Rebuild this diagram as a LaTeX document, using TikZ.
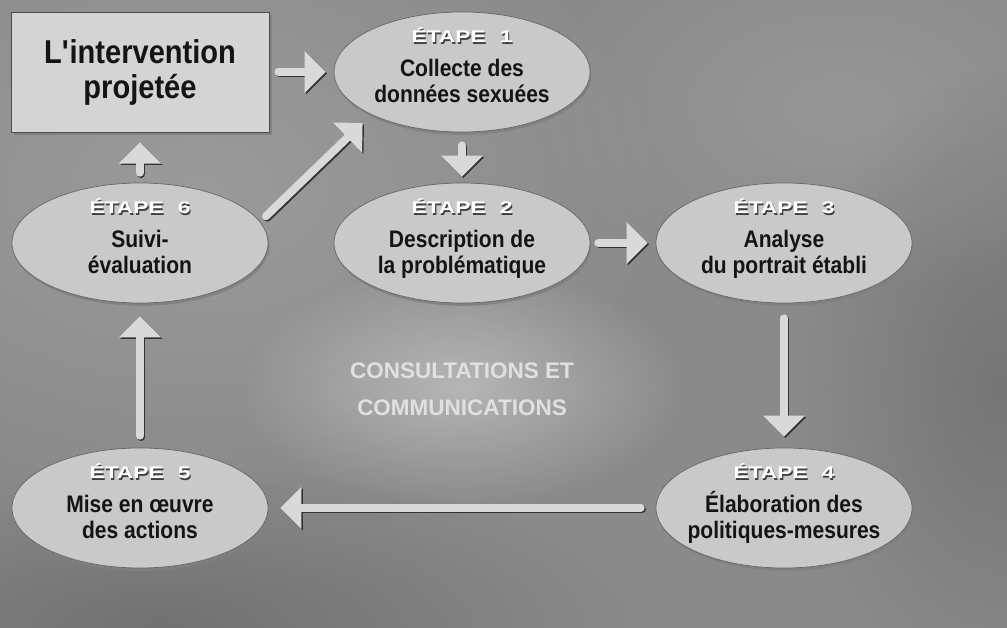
\documentclass[tikz,border=0pt]{standalone}
\usepackage{fontspec}
\setsansfont{Liberation Sans}
\newfontfamily\etapefont{Liberation Sans}[FakeStretch=1.35]
\newfontfamily\noirfont{Liberation Sans}[FakeStretch=0.88]
\usetikzlibrary{arrows.meta,shapes.geometric,shadows,fadings}
\tikzfading[name=flou, inner color=transparent!0, outer color=transparent!100]
\newcommand{\etape}[1]{{\etapefont\bfseries\fontsize{12}{13}\selectfont
  \makebox[0pt][l]{\kern0.8pt\raisebox{-0.8pt}{\color{black!75}ÉTAPE\hspace{10pt}#1}}%
  \color{white}ÉTAPE\hspace{10pt}#1}}
\newcommand{\fin}{\rule[-9.5pt]{0pt}{9.5pt}}
\newcommand{\fleche}[3][]{\draw[ombre,#1] (#2) -- (#3); \draw[trait,#1] (#2) -- (#3);}

\begin{document}
\begin{tikzpicture}[
    etapebox/.style={ellipse, minimum width=6.4cm, minimum height=3cm, inner sep=-8pt,
      fill=black!21, draw=black!60, line width=0.5pt,
      drop shadow={shadow xshift=1pt, shadow yshift=-2pt, opacity=0.9},
      align=center, text=black!92, font=\noirfont\bfseries\fontsize{17}{18.9}\selectfont},
    projetbox/.style={rectangle, minimum width=6.45cm, minimum height=3cm,
      fill=black!17, draw=black!70, line width=0.6pt,
      drop shadow={shadow xshift=1.8pt, shadow yshift=-1.8pt, opacity=0.9},
      align=center, text=black!92, font=\noirfont\bfseries\fontsize{23.5}{24.9}\selectfont},
    trait/.style={draw=black!15, line width=5.7pt, line cap=round,
      -{Triangle[width=29pt,length=15pt]}},
    ombre/.style={trait, draw=black!80, transform canvas={xshift=1pt,yshift=-1pt}}]
    \useasboundingbox (0,0) rectangle (25.175,15.675);
    % fond
    \fill[black!46] (-0.2,-0.2) rectangle (25.375,15.875);
    \fill[white, opacity=0.14, path fading=flou] (5,11) ellipse (12cm and 8cm);
    \fill[white, opacity=0.10, path fading=flou] (21,13) ellipse (8cm and 5cm);
    \fill[black, opacity=0.18, path fading=flou] (4,0) ellipse (12cm and 4cm);
    \fill[black, opacity=0.15, path fading=flou] (25,6) ellipse (5cm and 8cm);
    \fill[white, opacity=0.36, path fading=flou] (11.55,6.0) ellipse (5.6cm and 3cm);

    \node[projetbox] (projet) at (3.5, 13.875){L\textquotesingle intervention\\projetée};
    \node[etapebox] (e1) at (11.55, 13.875){\etape{1}\\[4.6pt]Collecte des\\données sexuées\fin};
    \node[etapebox] (e2) at (11.55, 9.6){\etape{2}\\[4.6pt]Description de\\la problématique\fin};
    \node[etapebox] (e3) at (19.6, 9.6){\etape{3}\\[4.6pt]Analyse\\du portrait établi\fin};
    \node[etapebox] (e4) at (19.6, 2.975){\etape{4}\\[4.6pt]Élaboration des\\politiques-mesures\fin};
    \node[etapebox] (e5) at (3.5, 2.975){\etape{5}\\[4.6pt]Mise en œuvre\\des actions\fin};
    \node[etapebox] (e6) at (3.5, 9.6){\etape{6}\\[4.6pt]Suivi-\\évaluation\fin};
    \node[align=center, text=black!12, font=\sffamily\bfseries\fontsize{16}{26.3}\selectfont]
      (consult) at (11.55, 5.95){CONSULTATIONS ET\\COMMUNICATIONS};

    \fleche[shorten <=0.225cm, shorten >=0.2cm]{projet.east}{e1.west}
    \fleche[shorten <=0.325cm, shorten >=0.15cm]{e1.south}{e2.north}
    \fleche[shorten <=0.2cm, shorten >=0.2cm]{e2.east}{e3.west}
    \fleche[shorten <=0.375cm, shorten >=0.275cm]{e3.south}{e4.north}
    \fleche[shorten <=0.375cm, shorten >=0.3cm]{e4.west}{e5.east}
    \fleche[shorten <=0.3cm, shorten >=0.325cm]{e5.north}{e6.south}
    \fleche[shorten <=0.25cm, shorten >=0.25cm]{e6.north}{projet.south}
    \fleche[shorten <=0.2cm, shorten >=0.3cm]{e6.10}{e1.south west}
\end{tikzpicture}
\end{document}
